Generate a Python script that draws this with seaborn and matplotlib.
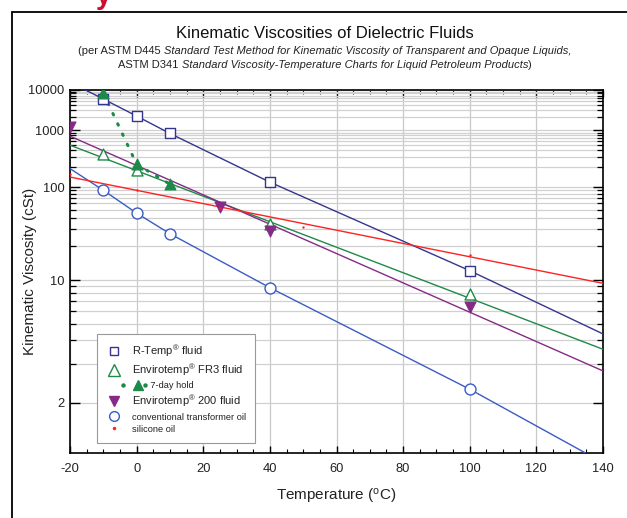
import numpy as np
import matplotlib
matplotlib.use("Agg")
import matplotlib.pyplot as plt
import seaborn as sns
from matplotlib.lines import Line2D
from matplotlib.ticker import FixedLocator, NullFormatter, FuncFormatter
from matplotlib.legend_handler import HandlerBase

# measured viscosities (cSt) at temperature (C)
rtemp_t = [-10, 0, 10, 40, 100]
rtemp_v = [5640, 2100, 860, 118, 12.0]
fr3_t = [-10, 0, 40, 100]
fr3_v = [339, 185, 34, 7.9]
hold_t = [-10, 0, 10]
hold_v = [8200, 227, 110]
e200_t = [-20, 25, 40, 100]
e200_v = [1190, 54, 28.5, 6.4]
conv_t = [-10, 0, 10, 40, 100]
conv_v = [90, 45.4, 26.6, 8.8, 2.28]
sil_t = [-20, 0, 25, 50, 100]
sil_v = [160, 90, 52, 31.8, 16.6]

# fitted lines
rtemp_fit_t = [-20, -10, 0, 10, 40, 100, 140]
rtemp_fit_v = [17000, 5640, 2100, 860, 118, 12.0, 4.35]
fr3_fit_t = [-20, 140]
fr3_fit_v = [500, 3.57]
e200_fit_t = [-20, 140]
e200_fit_v = [756, 2.77]
conv_fit_t = [-20, -10, 0, 10, 40, 100, 140]
conv_fit_v = [192, 90, 45.4, 26.6, 8.8, 2.28, 1.21]
sil_fit_t = [-20, 140]
sil_fit_v = [141, 9.5]

major_y = [2, 10, 100, 1000, 10000]
minor_y = [3, 4, 5, 6, 7, 8, 9, 20, 30, 40, 50, 60, 70, 80, 90,
           200, 300, 400, 500, 600, 700, 800, 900,
           2000, 3000, 4000, 5000, 6000, 7000, 8000, 9000]

c_rtemp = "#35358f"
c_fr3 = "#1e8a4a"
c_e200 = "#862a86"
c_conv = "#3a5cc4"
c_sil = "#ff2222"

sns.set_theme(style="ticks")
plt.rcParams["font.family"] = ["Liberation Sans", "DejaVu Sans"]
plt.rcParams["mathtext.fontset"] = "custom"
plt.rcParams["mathtext.rm"] = "Liberation Sans"
plt.rcParams["mathtext.it"] = "Liberation Sans:italic"
plt.rcParams["axes.unicode_minus"] = False


# ASTM D341 viscosity scale: log(log(v + 0.7))
def fwd(v):
    v = np.asarray(v, dtype=float)
    with np.errstate(invalid="ignore", divide="ignore"):
        return np.log10(np.log10(v + 0.7))


def inv(t):
    t = np.asarray(t, dtype=float)
    return 10 ** (10 ** t) - 0.7


fig = plt.figure(figsize=(6.27, 5.18), dpi=100)
ax = fig.add_axes([70 / 627, 1 - 453 / 518, 533 / 627, 363 / 518])
ax.set_yscale("function", functions=(fwd, inv))

# fit lines
for tt, vv, col in [(rtemp_fit_t, rtemp_fit_v, c_rtemp), (fr3_fit_t, fr3_fit_v, c_fr3),
                    (e200_fit_t, e200_fit_v, c_e200), (conv_fit_t, conv_fit_v, c_conv),
                    (sil_fit_t, sil_fit_v, c_sil)]:
    sns.lineplot(x=tt, y=vv, ax=ax, color=col, lw=1.0, sort=False,
                 estimator=None, zorder=3)

# 7-day hold dotted connector
ax.plot(hold_t, hold_v, color=c_fr3, lw=2.2, ls=(0, (0.5, 3.2)),
        dash_capstyle="round", zorder=3)

# data points
ms = 62
sns.scatterplot(x=rtemp_t, y=rtemp_v, ax=ax, marker="s", s=48, facecolor="white",
                edgecolor=c_rtemp, linewidth=1.0, zorder=5)
sns.scatterplot(x=fr3_t, y=fr3_v, ax=ax, marker="^", s=ms, facecolor="white",
                edgecolor=c_fr3, linewidth=1.0, zorder=5)
sns.scatterplot(x=hold_t, y=hold_v, ax=ax, marker="^", s=ms, color=c_fr3,
                edgecolor=c_fr3, linewidth=0.8, zorder=6)
sns.scatterplot(x=e200_t, y=e200_v, ax=ax, marker="v", s=ms, color=c_e200,
                edgecolor=c_e200, linewidth=0.8, zorder=5)
sns.scatterplot(x=conv_t, y=conv_v, ax=ax, marker="o", s=ms, facecolor="white",
                edgecolor=c_conv, linewidth=1.0, zorder=5)
sns.scatterplot(x=sil_t, y=sil_v, ax=ax, marker="o", s=3, color=c_sil,
                edgecolor=c_sil, linewidth=0, zorder=6)

ax.set_xlim(-20, 140)
ax.set_ylim(1.3, 10000)
ax.set_xticks(range(-20, 141, 20))
ax.set_xticks(range(-20, 141, 5), minor=True)
ax.yaxis.set_major_locator(FixedLocator(major_y))
ax.yaxis.set_minor_locator(FixedLocator(minor_y))
ax.yaxis.set_major_formatter(FuncFormatter(lambda v, p: f"{v:g}"))
ax.yaxis.set_minor_formatter(NullFormatter())

ax.grid(which="major", axis="x", color="#c8c8c8", lw=0.9, zorder=0)
ax.grid(which="both", axis="y", color="#d0d0d0", lw=0.9, zorder=0)
ax.set_axisbelow(True)

ax.tick_params(which="both", direction="in", top=True, right=True,
               colors="black", labelsize=9.3, labelcolor="#222222")
ax.tick_params(axis="x", which="major", length=5, width=1, pad=7)
ax.tick_params(axis="x", which="minor", length=3, width=0.8)
ax.tick_params(axis="y", which="major", length=7, width=1, pad=4)
ax.tick_params(axis="y", which="minor", length=4.5, width=0.9)
for sp in ax.spines.values():
    sp.set_color("black")
    sp.set_linewidth(1.2)

ax.set_xlabel(r"Temperature ($^{\mathrm{o}}$C)", fontsize=11, color="#222222")
ax.set_ylabel("Kinematic Viscosity (cSt)", fontsize=11, color="#222222")
ax.xaxis.set_label_coords(0.5, -0.094)
ax.yaxis.set_label_coords(-0.062, 0.5)


# legend entry for the 7-day hold: dot, triangle, dot, shifted right
class HoldHandler(HandlerBase):
    def create_artists(self, legend, orig_handle, xdescent, ydescent, width,
                       height, fontsize, trans):
        y = height / 2 - ydescent
        x0 = -xdescent + 12
        w = 16
        dots = Line2D([x0, x0 + w], [y, y], ls="none", marker="o", ms=2.2,
                      mfc=c_fr3, mec=c_fr3, transform=trans)
        tri = Line2D([x0 + w * 0.68], [y], ls="none", marker="^", ms=6.5,
                     mfc=c_fr3, mec=c_fr3, transform=trans)
        return [dots, tri]


h_rtemp = Line2D([], [], ls="none", marker="s", ms=6, mfc="white", mec=c_rtemp, mew=1)
h_fr3 = Line2D([], [], ls="none", marker="^", ms=8, mfc="white", mec=c_fr3, mew=1)
h_hold = Line2D([], [], color=c_fr3)
h_e200 = Line2D([], [], ls="none", marker="v", ms=7, mfc=c_e200, mec=c_e200)
h_conv = Line2D([], [], ls="none", marker="o", ms=7, mfc="white", mec=c_conv, mew=1)
h_sil = Line2D([], [], ls="none", marker="o", ms=1.5, mfc=c_sil, mec=c_sil)

labels = [r"R-Temp$^{®}$ fluid", r"Envirotemp$^{®}$ FR3 fluid", "       7-day hold",
          r"Envirotemp$^{®}$ 200 fluid", "conventional transformer oil", "silicone oil"]
leg = ax.legend([h_rtemp, h_fr3, h_hold, h_e200, h_conv, h_sil], labels,
                loc="lower left", bbox_to_anchor=(0.051, 0.027), borderaxespad=0,
                fancybox=False, framealpha=1, edgecolor="#999999", fontsize=8,
                handlelength=1.4, handletextpad=0.9, labelspacing=0.25,
                borderpad=0.8, handler_map={h_hold: HoldHandler()})
leg.get_frame().set_linewidth(0.8)
for i, t in enumerate(leg.get_texts()):
    t.set_color("#222222")
    if i in (2, 4, 5):
        t.set_fontsize(6.7)
leg.set_zorder(10)

# titles
fig.text(325 / 627, 1 - 33 / 518, "Kinematic Viscosities of Dielectric Fluids",
         ha="center", va="center", fontsize=12, color="#111111")

renderer = fig.canvas.get_renderer()


def mixed_line(parts, ypix, size):
    texts = [fig.text(0, 1 - ypix / 518, s, style=st, fontsize=size,
                      va="center", ha="left", color="#222222") for s, st in parts]
    widths = [t.get_window_extent(renderer).width for t in texts]
    x0 = 325 - sum(widths) / 2
    for t, w in zip(texts, widths):
        t.set_x(x0 / 627)
        x0 += w


mixed_line([("(per ASTM D445 ", "normal"),
            ("Standard Test Method for Kinematic Viscosity of Transparent and Opaque Liquids,",
             "italic")], 51, 8)
mixed_line([("ASTM D341 ", "normal"),
            ("Standard Viscosity-Temperature Charts for Liquid Petroleum Products", "italic"),
            (")", "normal")], 65, 8)

# page frame and clipped heading fragment
fig.add_artist(Line2D([12 / 627, 12 / 627], [0, 1 - 12 / 518], color="black", lw=1.3))
fig.add_artist(Line2D([12 / 627, 1], [1 - 12 / 518, 1 - 12 / 518], color="black", lw=1.3))
fig.text(96 / 627, 1 - 4 / 518, "y", color="#c8102e", fontsize=20, weight="bold",
         ha="left", va="baseline")

fig.savefig("out.png", dpi=100)
